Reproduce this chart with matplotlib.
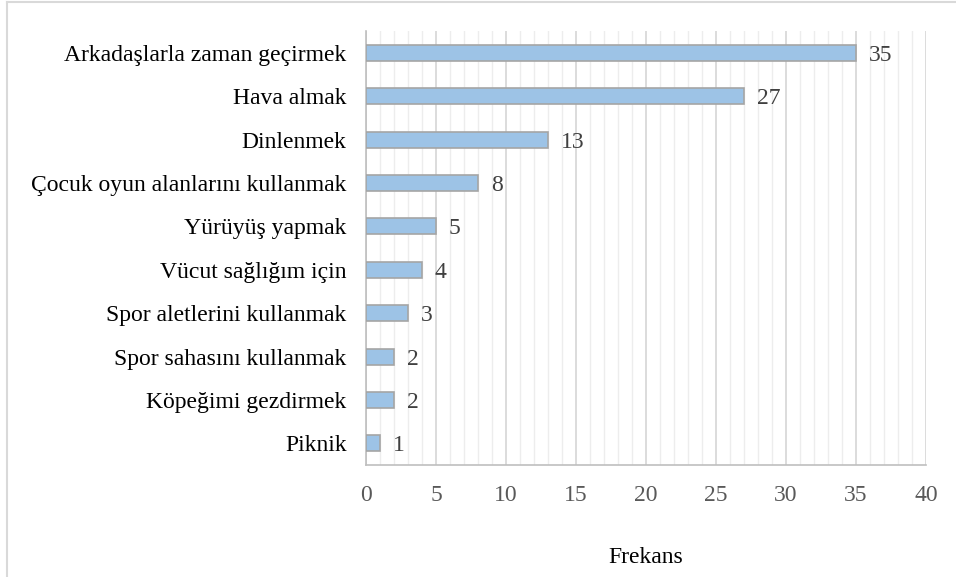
import matplotlib
matplotlib.use("Agg")
import matplotlib.pyplot as plt
from matplotlib.lines import Line2D
from matplotlib.ticker import MultipleLocator

# data (top to bottom as in the chart)
categories = ["Arkadaşlarla zaman geçirmek", "Hava almak", "Dinlenmek",
              "Çocuk oyun alanlarını kullanmak", "Yürüyüş yapmak",
              "Vücut sağlığım için", "Spor aletlerini kullanmak",
              "Spor sahasını kullanmak", "Köpeğimi gezdirmek", "Piknik"]
values = [35, 27, 13, 8, 5, 4, 3, 2, 2, 1]
x_label = "Frekans"

plt.rcParams['font.family'] = 'serif'
plt.rcParams['font.serif'] = ['Liberation Serif', 'DejaVu Serif']

fig = plt.figure(figsize=(9.56, 5.77), dpi=100)
ax = fig.add_axes([0.383, 0.194, 0.5856, 0.752])

pos = list(range(len(categories)))[::-1]
ax.barh(pos, values, height=0.37, color="#9DC3E6", edgecolor="#A5A5A5", linewidth=1.2, zorder=3)

for p, v in zip(pos, values):
    ax.text(v + 0.9, p, str(v), va="center_baseline", ha="left", fontsize=17, color="#404040")

ax.set_xlim(0, 40)
ax.set_ylim(-0.5, len(categories) - 0.5)
ax.set_yticks(pos)
ax.set_yticklabels(categories, fontsize=17)
ax.xaxis.set_major_locator(MultipleLocator(5))
ax.xaxis.set_minor_locator(MultipleLocator(1))
ax.tick_params(axis="x", which="both", length=0, labelsize=17, labelcolor="#595959", pad=14)
ax.tick_params(axis="y", length=0, pad=14)

ax.grid(axis="x", which="major", color="#D9D9D9", linewidth=1.3, zorder=0)
ax.grid(axis="x", which="minor", color="#EDEDED", linewidth=1.0, zorder=0)
ax.set_axisbelow(True)

for s in ["top", "right"]:
    ax.spines[s].set_visible(False)
for s in ["left", "bottom"]:
    ax.spines[s].set_color("#BFBFBF")
    ax.spines[s].set_linewidth(1.2)

ax.set_xlabel(x_label, fontsize=17, labelpad=30)

# outer frame (left and top edges visible)
fig.add_artist(Line2D([0.0068, 0.0068], [0, 0.997], transform=fig.transFigure, color="#D9D9D9", linewidth=1.5))
fig.add_artist(Line2D([0.0068, 1], [0.997, 0.997], transform=fig.transFigure, color="#D9D9D9", linewidth=1.5))

fig.savefig("out.png", dpi=100)
